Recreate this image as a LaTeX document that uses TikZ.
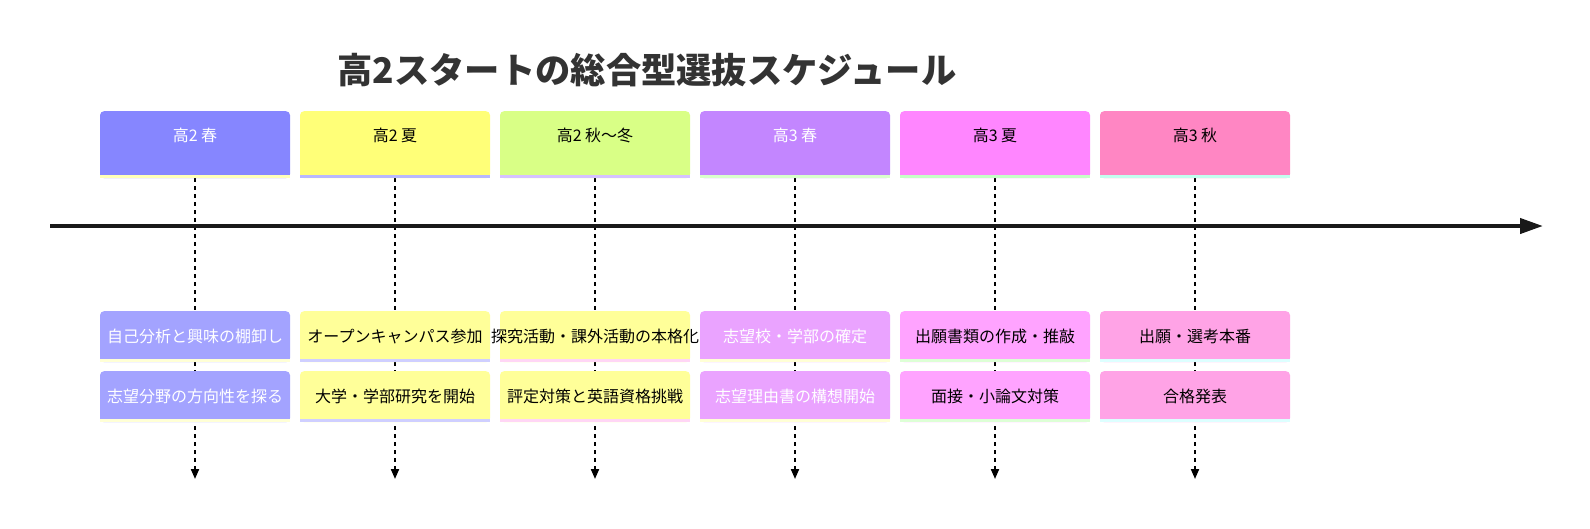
\documentclass[tikz,border=0pt]{standalone}
\usepackage{fontspec}
\newfontfamily\jpfont{Noto Sans CJK JP}
\usepackage{xcolor}
\usepackage{tikz}
\usetikzlibrary{arrows.meta,positioning,backgrounds}

% section colours
\definecolor{secA}{HTML}{8686FF}
\definecolor{secB}{HTML}{FFFF78}
\definecolor{secC}{HTML}{D9FF86}
\definecolor{secD}{HTML}{C386FF}
\definecolor{secE}{HTML}{FF86FF}
\definecolor{secF}{HTML}{FF86C3}
% event colours
\definecolor{evA}{HTML}{A3A3FF}
\definecolor{evB}{HTML}{FFFF99}
\definecolor{evC}{HTML}{FFFF99}
\definecolor{evD}{HTML}{EAA3FF}
\definecolor{evE}{HTML}{FFA3FF}
\definecolor{evF}{HTML}{FFA3E6}
% bottom strips
\definecolor{secstripA}{HTML}{FFFFB8}
\definecolor{secstripB}{HTML}{B8B8FF}
\definecolor{secstripC}{HTML}{D6C2FF}
\definecolor{secstripD}{HTML}{D9FFCC}
\definecolor{secstripE}{HTML}{C6FFC6}
\definecolor{secstripF}{HTML}{C2FFEE}
\definecolor{evstripA}{HTML}{FFFFD6}
\definecolor{evstripB}{HTML}{CFCFFF}
\definecolor{evstripC}{HTML}{FFD6F5}
\definecolor{evstripD}{HTML}{FFFFD6}
\definecolor{evstripE}{HTML}{DDFFD6}
\definecolor{evstripF}{HTML}{DDFFFF}
\definecolor{inkdark}{HTML}{333333}

\begin{document}
\begin{tikzpicture}[x=1pt, y=-1pt,
      sec/.style={rectangle, rounded corners=4pt, inner sep=0pt,
                  minimum width=190pt, minimum height=67pt, anchor=north,
                  text height=12pt, text depth=18pt,
                  font=\jpfont\fontsize{16}{16}\selectfont},
      evt/.style={rectangle, rounded corners=4pt, inner sep=0pt,
                  minimum width=190pt, minimum height=51pt, anchor=north,
                  font=\jpfont\fontsize{16}{16}\selectfont},
      light/.style={text=white},
      dark/.style={text=black},
      ttl/.style={font=\jpfont\bfseries\fontsize{35.3}{35.3}\selectfont, text=inkdark},
      vline/.style={line width=2pt, black, dash pattern=on 4pt off 4pt,
                    -{Triangle[length=10pt,width=8pt]}},
      axis/.style={line width=4pt, black!90,
                   -{Triangle[length=23pt,width=15pt]}},
    ]
    \useasboundingbox (0,0) rectangle (1590,528);

    % Title
    \node[ttl] (title) at (647,70) {高2スタートの総合型選抜スケジュール};

    % Row 1: periods
    \node[sec, fill=secA, light] (s1) at (195,111) {高2 春};
    \node[sec, fill=secB, dark]  (s2) at (395,111) {高2 夏};
    \node[sec, fill=secC, dark]  (s3) at (595,111) {高2 秋〜冬};
    \node[sec, fill=secD, light] (s4) at (795,111) {高3 春};
    \node[sec, fill=secE, dark]  (s5) at (995,111) {高3 夏};
    \node[sec, fill=secF, dark]  (s6) at (1195,111) {高3 秋};

    % Row 2: first events
    \node[evt, fill=evA, light] (e11) at (195,311) {自己分析と興味の棚卸し};
    \node[evt, fill=evB, dark]  (e21) at (395,311) {オープンキャンパス参加};
    \node[evt, fill=evC, dark]  (e31) at (595,311) {\makebox[0pt]{探究活動・課外活動の本格化}};
    \node[evt, fill=evD, light] (e41) at (795,311) {志望校・学部の確定};
    \node[evt, fill=evE, dark]  (e51) at (995,311) {出願書類の作成・推敲};
    \node[evt, fill=evF, dark]  (e61) at (1195,311) {出願・選考本番};

    % Row 3: second events
    \node[evt, fill=evA, light] (e12) at (195,371) {志望分野の方向性を探る};
    \node[evt, fill=evB, dark]  (e22) at (395,371) {大学・学部研究を開始};
    \node[evt, fill=evC, dark]  (e32) at (595,371) {評定対策と英語資格挑戦};
    \node[evt, fill=evD, light] (e42) at (795,371) {志望理由書の構想開始};
    \node[evt, fill=evE, dark]  (e52) at (995,371) {面接・小論文対策};
    \node[evt, fill=evF, dark]  (e62) at (1195,371) {合格発表};

    % Strips under the boxes
    \fill[secstripA] ([yshift=3pt]s1.south west) rectangle (s1.south east);
    \fill[secstripB] ([yshift=3pt]s2.south west) rectangle (s2.south east);
    \fill[secstripC] ([yshift=3pt]s3.south west) rectangle (s3.south east);
    \fill[secstripD] ([yshift=3pt]s4.south west) rectangle (s4.south east);
    \fill[secstripE] ([yshift=3pt]s5.south west) rectangle (s5.south east);
    \fill[secstripF] ([yshift=3pt]s6.south west) rectangle (s6.south east);
    \fill[evstripA] ([yshift=3pt]e11.south west) rectangle (e11.south east);
    \fill[evstripB] ([yshift=3pt]e21.south west) rectangle (e21.south east);
    \fill[evstripC] ([yshift=3pt]e31.south west) rectangle (e31.south east);
    \fill[evstripD] ([yshift=3pt]e41.south west) rectangle (e41.south east);
    \fill[evstripE] ([yshift=3pt]e51.south west) rectangle (e51.south east);
    \fill[evstripF] ([yshift=3pt]e61.south west) rectangle (e61.south east);
    \fill[evstripA] ([yshift=3pt]e12.south west) rectangle (e12.south east);
    \fill[evstripB] ([yshift=3pt]e22.south west) rectangle (e22.south east);
    \fill[evstripC] ([yshift=3pt]e32.south west) rectangle (e32.south east);
    \fill[evstripD] ([yshift=3pt]e42.south west) rectangle (e42.south east);
    \fill[evstripE] ([yshift=3pt]e52.south west) rectangle (e52.south east);
    \fill[evstripF] ([yshift=3pt]e62.south west) rectangle (e62.south east);

    % Time axis
    \coordinate (ax0) at (50,226);
    \coordinate (ax1) at (1543,226);
    \draw[axis] (ax0) -- (ax1);

    % Dashed drop lines behind the boxes
    \coordinate (v1) at (195,479);
    \coordinate (v2) at (395,479);
    \coordinate (v3) at (595,479);
    \coordinate (v4) at (795,479);
    \coordinate (v5) at (995,479);
    \coordinate (v6) at (1195,479);
    \begin{scope}[on background layer]
      \draw[vline] (s1.south) -- (v1);
      \draw[vline] (s2.south) -- (v2);
      \draw[vline] (s3.south) -- (v3);
      \draw[vline] (s4.south) -- (v4);
      \draw[vline] (s5.south) -- (v5);
      \draw[vline] (s6.south) -- (v6);
    \end{scope}

    \end{tikzpicture}
\end{document}
